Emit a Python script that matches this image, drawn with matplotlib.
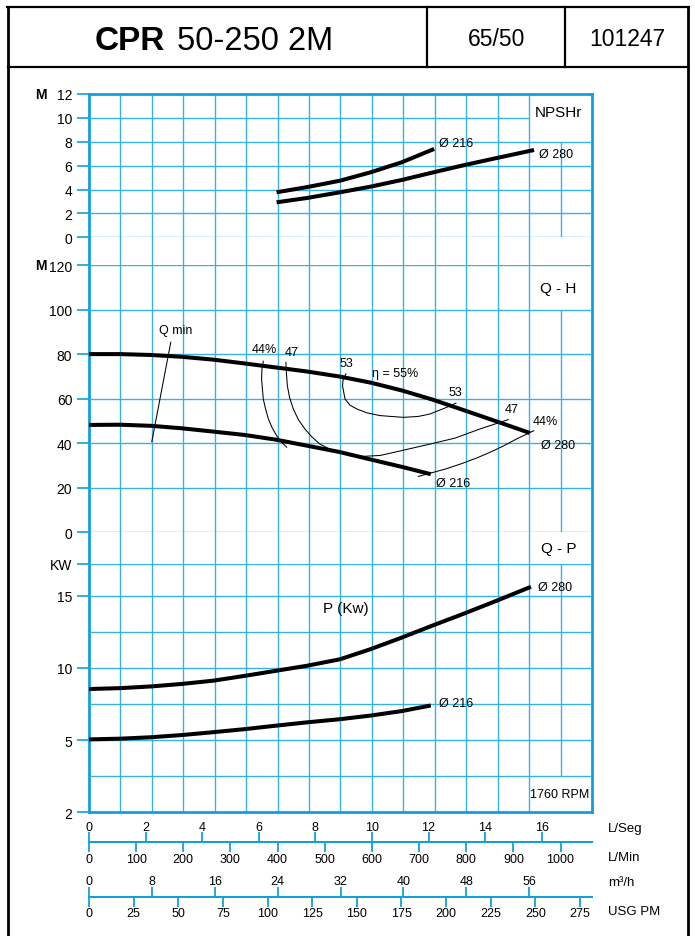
import numpy as np
import matplotlib.pyplot as plt
from matplotlib.lines import Line2D

plt.rcParams['font.family'] = ['Liberation Sans', 'DejaVu Sans']

W, H = 695, 937
FRAME = '#12a0da'
GRID = '#35b3e5'

# flow axis in L/s, full width = 64 m3/h
QMAX = 64 / 3.6
qgrid = np.arange(0, 65, 4) / 3.6
Q60 = 60 / 3.6

# NPSHr (m)
npsh_q_216 = [6.63, 7.7, 8.87, 9.95, 11.05, 12.2]
npsh_h_216 = [3.77, 4.2, 4.74, 5.44, 6.28, 7.4]
npsh_q_280 = [6.63, 7.7, 8.87, 9.95, 11.05, 12.17, 13.29, 14.41, 15.73]
npsh_h_280 = [2.93, 3.29, 3.77, 4.24, 4.8, 5.44, 6.06, 6.64, 7.31]

# Q-H (m)
qh_q_280 = [0, 1.1, 2.2, 3.27, 4.4, 5.5, 6.6, 7.7, 8.87, 9.95, 11.05, 12.16, 13.3, 14.4, 15.58]
qh_h_280 = [80, 80, 79.6, 78.8, 77.5, 75.8, 74.0, 72.2, 69.9, 67.2, 63.7, 59.5, 54.6, 49.8, 44.6]
qh_q_216 = [0, 1.1, 2.2, 3.27, 4.4, 5.5, 6.6, 7.7, 8.87, 9.95, 11.05, 12.08]
qh_h_216 = [48.2, 48.3, 47.8, 46.7, 45.2, 43.7, 41.6, 38.9, 36.0, 32.7, 29.4, 26.1]

# efficiency / Q min lines
qmin_q = [2.89, 2.22]
qmin_h = [85.3, 40.7]
eff44l_q = [6.16, 6.11, 6.10, 6.16, 6.24, 6.34, 6.47, 6.63, 6.80, 6.99]
eff44l_h = [76.8, 72.9, 68.8, 59.8, 55.4, 50.9, 47.0, 43.4, 40.5, 38.2]
eff47_q = [6.96, 6.98, 7.01, 7.09, 7.22, 7.40, 7.63, 7.88, 8.16, 8.63, 9.22, 9.69,
           10.29, 10.99, 12.05, 12.94, 13.82, 14.82]
eff47_h = [76.3, 71.1, 65.8, 60.5, 55.4, 50.6, 46.4, 42.8, 39.6, 36.6, 34.4, 34.1,
           34.5, 36.5, 39.6, 42.3, 46.4, 50.6]
eff53_q = [9.08, 8.98, 8.96, 9.05, 9.22, 9.46, 9.83, 10.28, 11.11, 11.63, 12.05, 12.64, 12.97]
eff53_h = [71.1, 68.4, 65.8, 59.8, 57.1, 55.4, 53.6, 52.4, 51.6, 52.0, 53.1, 56.1, 58.0]
eff44r_q = [15.72, 15.41, 15.11, 14.64, 14.17, 13.71, 13.23, 12.65, 12.08, 11.64]
eff44r_h = [45.6, 43.7, 41.9, 38.7, 35.9, 33.4, 31.1, 28.6, 26.6, 25.1]

# Q-P (kW)
qp_q_280 = [0, 1.1, 2.2, 3.27, 4.4, 5.5, 6.6, 7.7, 8.87, 9.95, 11.05, 12.16, 13.3, 14.4, 15.62]
qp_p_280 = [8.54, 8.6, 8.72, 8.89, 9.12, 9.45, 9.8, 10.15, 10.6, 11.3, 12.1, 12.95, 13.8, 14.65, 15.62]
qp_q_216 = [0, 1.1, 2.2, 3.27, 4.4, 5.5, 6.6, 7.7, 8.87, 9.95, 11.05, 12.08]
qp_p_216 = [5.05, 5.1, 5.2, 5.35, 5.55, 5.76, 6.0, 6.23, 6.45, 6.7, 7.01, 7.4]

# bottom scales
ls_ticks = [0, 2, 4, 6, 8, 10, 12, 14, 16]
lmin_ticks = [0, 100, 200, 300, 400, 500, 600, 700, 800, 900, 1000]
m3h_ticks = [0, 8, 16, 24, 32, 40, 48, 56]
usg_ticks = [0, 25, 50, 75, 100, 125, 150, 175, 200, 225, 250, 275]


def box(x0, y0, x1, y1):
    return [x0 / W, 1 - y1 / H, (x1 - x0) / W, (y1 - y0) / H]


def kw_to_u(v):
    v = np.asarray(v, float)
    return np.where(v < 5, (v - 2) / 1.5, 2 + (v - 5) / 2.5)


def u_to_kw(u):
    u = np.asarray(u, float)
    return np.where(u < 2, 2 + 1.5 * u, 5 + 2.5 * (u - 2))


fig = plt.figure(figsize=(W / 100, H / 100), dpi=100)

# outer page frame + header
def fline(xs, ys, lw=1.6):
    fig.add_artist(Line2D([x / W for x in xs], [1 - y / H for y in ys],
                          color='black', lw=lw, transform=fig.transFigure))

fline([8, 8], [7.5, 940], 2)
fline([688, 688], [7.5, 940], 2)
fline([7, 689], [7.5, 7.5])
fline([8, 688], [68, 68])
fline([427, 427], [7.5, 68])
fline([565, 565], [7.5, 68])
fig.text(95 / W, 1 - 50 / H, 'CPR', fontsize=24, fontweight='bold', va='baseline', ha='left')
fig.text(177 / W, 1 - 50 / H, '50-250 2M', fontsize=23.5, va='baseline', ha='left')
fig.text(497 / W, 1 - 46.5 / H, '65/50', fontsize=16.5, va='baseline', ha='center')
fig.text(627 / W, 1 - 46.5 / H, '101247', fontsize=16.5, va='baseline', ha='center')

# background: vertical grid + blue frame
bg = fig.add_axes(box(89, 95, 592, 813.3))
bg.set_xlim(0, QMAX)
bg.set_ylim(0, 1)
for q in qgrid[1:-1]:
    if abs(q - Q60) > 1e-6:
        bg.axvline(q, color=GRID, lw=1.0)
bg.set_xticks([])
bg.set_yticks([])
for s in bg.spines.values():
    s.set_color(FRAME)
    s.set_linewidth(2.0)


def section(y0, y1):
    ax = fig.add_axes(box(89, y0, 592, y1))
    ax.set_facecolor('none')
    ax.set_xlim(0, QMAX)
    for s in ax.spines.values():
        s.set_visible(False)
    ax.set_xticks([])
    ax.tick_params(axis='y', length=9, width=1.2, color=FRAME, labelsize=10, pad=3)
    return ax


thick = dict(color='black', lw=2.9, solid_capstyle='butt')
thin = dict(color='black', lw=0.75)
lab = dict(fontsize=9, va='center')

# ---- NPSHr ----
axn = section(95, 238.3)
axn.set_ylim(0, 12)
axn.set_yticks(range(0, 13, 2))
axn.hlines([0, 2, 4, 6, 8], 0, QMAX, color=GRID, lw=1.0)
axn.hlines(10, 0, 56 / 3.6, color=GRID, lw=1.0)
axn.vlines(Q60, 0, 8, color=GRID, lw=1.0)
axn.plot(npsh_q_216, npsh_h_216, **thick)
axn.plot(npsh_q_280, npsh_h_280, **thick)
axn.text(12.38, 7.87, 'Ø 216', **lab)
axn.text(15.91, 6.95, 'Ø 280', **lab)
axn.text(16.59, 10.5, 'NPSHr', fontsize=11, ha='center', va='center')

# ---- Q-H ----
axh = section(266, 533.3)
axh.set_ylim(0, 120)
axh.set_yticks(range(0, 121, 20))
axh.hlines(range(0, 121, 20), 0, QMAX, color=GRID, lw=1.0)
axh.vlines(Q60, 0, 100, color=GRID, lw=1.0)
axh.plot(qh_q_280, qh_h_280, **thick)
axh.plot(qh_q_216, qh_h_216, **thick)
axh.plot(qmin_q, qmin_h, **thin)
axh.plot(eff44l_q, eff44l_h, **thin)
axh.plot(eff47_q, eff47_h, **thin)
axh.plot(eff53_q, eff53_h, **thin)
axh.plot(eff44r_q, eff44r_h, **thin)
axh.text(3.08, 90.8, 'Q min', ha='center', **lab)
axh.text(6.18, 82.3, '44%', ha='center', **lab)
axh.text(7.17, 81.1, '47', ha='center', **lab)
axh.text(9.1, 75.9, '53', ha='center', **lab)
axh.text(10.82, 71.5, 'η = 55%', ha='center', **lab)
axh.text(12.96, 63.1, '53', ha='center', **lab)
axh.text(14.94, 55.4, '47', ha='center', **lab)
axh.text(16.12, 50.1, '44%', ha='center', **lab)
axh.text(15.98, 39.2, 'Ø 280', ha='left', **lab)
axh.text(12.27, 22.0, 'Ø 216', ha='left', **lab)
axh.text(16.58, 109.5, 'Q - H', fontsize=11, ha='center', va='center')

# ---- Q-P ----
KW_TOP = float(u_to_kw(6.88))
axp = section(565, 813.3)
axp.set_yscale('function', functions=(kw_to_u, u_to_kw))
axp.set_ylim(2, KW_TOP)
axp.set_yticks([2, 5, 10, 15, KW_TOP])
axp.set_yticklabels(['2', '5', '10', '15', 'KW'])
axp.set_yticks([], minor=True)
axp.hlines([3.5, 5, 7.5, 10, 12.5, 15, KW_TOP], 0, QMAX, color=GRID, lw=1.0)
axp.vlines(Q60, 3.5, KW_TOP, color=GRID, lw=1.0)
axp.plot(qp_q_280, qp_p_280, **thick)
axp.plot(qp_q_216, qp_p_216, **thick)
axp.text(15.87, 15.62, 'Ø 280', ha='left', **lab)
axp.text(12.37, 7.55, 'Ø 216', ha='left', **lab)
axp.text(9.07, 14.15, 'P (Kw)', fontsize=11, ha='center', va='center')
axp.text(16.62, 18.3, 'Q - P', fontsize=11, ha='center', va='center')
axp.text(17.67, 2.76, '1760 RPM', fontsize=9, ha='right', va='center')

# M labels
fig.text(41 / W, 1 - 95 / H, 'M', fontsize=10, fontweight='bold', ha='center', va='center')
fig.text(41 / W, 1 - 266 / H, 'M', fontsize=10, fontweight='bold', ha='center', va='center')


# ---- bottom flow scales ----
def flow_scale(y, xmax, top_ticks, fwd, inv, bottom_ticks):
    ax = fig.add_axes([89 / W, 1 - y / H, (592 - 89) / W, 1e-5])
    ax.set_facecolor('none')
    ax.set_xlim(0, xmax)
    ax.set_yticks([])
    for k in ['left', 'right', 'bottom']:
        ax.spines[k].set_visible(False)
    ax.spines['top'].set_color(FRAME)
    ax.spines['top'].set_linewidth(1.4)
    ax.xaxis.tick_top()
    ax.set_xticks(top_ticks)
    ax.tick_params(axis='x', length=7, width=1.3, color=FRAME, labelsize=9, pad=0)
    sec = ax.secondary_xaxis('bottom', functions=(fwd, inv))
    sec.set_xticks(bottom_ticks)
    sec.spines['bottom'].set_color(FRAME)
    sec.spines['bottom'].set_linewidth(1.4)
    sec.tick_params(axis='x', length=7, width=1.3, color=FRAME, labelsize=9, pad=0.5)
    return ax


flow_scale(843.3, QMAX, ls_ticks, lambda q: q * 60, lambda v: v / 60, lmin_ticks)
flow_scale(897.7, 64, m3h_ticks, lambda m: m * 1000 / 60 / 3.78541,
           lambda g: g * 3.78541 * 60 / 1000, usg_ticks)

for y, t in [(829, 'L/Seg'), (857.7, 'L/Min'), (882.7, 'm³/h'), (911.7, 'USG PM')]:
    fig.text(608 / W, 1 - y / H, t, fontsize=9.5, ha='left', va='center')

fig.savefig('out.png', dpi=100)
